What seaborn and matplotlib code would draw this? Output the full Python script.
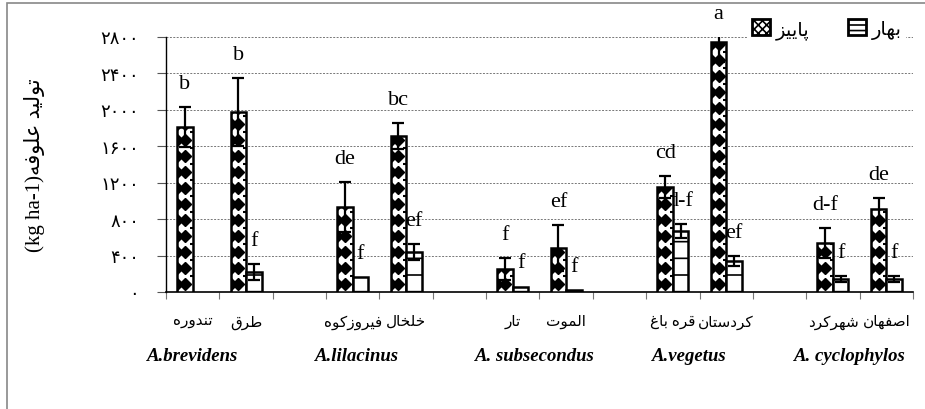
import numpy as np
import pandas as pd
import matplotlib
matplotlib.use("Agg")
import matplotlib.pyplot as plt
import matplotlib.patches as mpatches
import matplotlib.transforms as mtransforms
import seaborn as sns

# --- données ---
species = ["A.brevidens", "A.lilacinus", "A. subsecondus", "A.vegetus", "A. cyclophylos"]
sites = ["تندوره", "طرق", "فیروزکوه", "خلخال", "تار", "الموت",
         "قره باغ", "کردستان", "شهرکرد", "اصفهان"]
autumn_mean = [1810, 1975, 933, 1712, 252, 483, 1153, 2740, 538, 911]
autumn_err = [220, 375, 275, 145, 120, 250, 120, 210, 160, 120]
spring_mean = [np.nan, 220, 165, 439, 60, 20, 670, 340, 143, 143]
spring_err = [0, 88, 0, 88, 0, 0, 76, 55, 33, 33]
autumn_letters = ["b", "b", "de", "bc", "f", "ef", "cd", "a", "d-f", "de"]
spring_letters = ["", "f", "f", "ef", "f", "f", "d-f", "ef", "f", "f"]
season_names = {"autumn": "پاییز", "spring": "بهار"}
y_ticks = [0, 400, 800, 1200, 1600, 2000, 2400, 2800]
y_title_fa = "تولید علوفه"
y_title_unit = "(kg ha-1)"

# décalage horizontal des noms d'espèces (mise en page)
species_shift = [-0.5, -0.42, -0.08, -0.19, -0.19]

# --- mise en forme de l'écriture persane (matplotlib ne fait pas le shaping) ---
FORMS = {
    'ا': (0xFE8D, 0xFE8E), 'آ': (0xFE81, 0xFE82),
    'د': (0xFEA9, 0xFEAA), 'ذ': (0xFEAB, 0xFEAC), 'ر': (0xFEAD, 0xFEAE),
    'ز': (0xFEAF, 0xFEB0), 'ژ': (0xFB8A, 0xFB8B), 'و': (0xFEED, 0xFEEE),
    'ب': (0xFE8F, 0xFE90, 0xFE91, 0xFE92), 'پ': (0xFB56, 0xFB57, 0xFB58, 0xFB59),
    'ت': (0xFE95, 0xFE96, 0xFE97, 0xFE98), 'ث': (0xFE99, 0xFE9A, 0xFE9B, 0xFE9C),
    'ج': (0xFE9D, 0xFE9E, 0xFE9F, 0xFEA0), 'چ': (0xFB7A, 0xFB7B, 0xFB7C, 0xFB7D),
    'ح': (0xFEA1, 0xFEA2, 0xFEA3, 0xFEA4), 'خ': (0xFEA5, 0xFEA6, 0xFEA7, 0xFEA8),
    'س': (0xFEB1, 0xFEB2, 0xFEB3, 0xFEB4), 'ش': (0xFEB5, 0xFEB6, 0xFEB7, 0xFEB8),
    'ص': (0xFEB9, 0xFEBA, 0xFEBB, 0xFEBC), 'ض': (0xFEBD, 0xFEBE, 0xFEBF, 0xFEC0),
    'ط': (0xFEC1, 0xFEC2, 0xFEC3, 0xFEC4), 'ظ': (0xFEC5, 0xFEC6, 0xFEC7, 0xFEC8),
    'ع': (0xFEC9, 0xFECA, 0xFECB, 0xFECC), 'غ': (0xFECD, 0xFECE, 0xFECF, 0xFED0),
    'ف': (0xFED1, 0xFED2, 0xFED3, 0xFED4), 'ق': (0xFED5, 0xFED6, 0xFED7, 0xFED8),
    'ک': (0xFB8E, 0xFB8F, 0xFB90, 0xFB91), 'گ': (0xFB92, 0xFB93, 0xFB94, 0xFB95),
    'ل': (0xFEDD, 0xFEDE, 0xFEDF, 0xFEE0), 'م': (0xFEE1, 0xFEE2, 0xFEE3, 0xFEE4),
    'ن': (0xFEE5, 0xFEE6, 0xFEE7, 0xFEE8), 'ه': (0xFEE9, 0xFEEA, 0xFEEB, 0xFEEC),
    'ی': (0xFBFC, 0xFBFD, 0xFBFE, 0xFBFF),
}


def persan(texte):
    """Renvoie le texte en formes contextuelles, ordre visuel gauche->droite."""
    out = []
    for i, c in enumerate(texte):
        if c not in FORMS:
            out.append(c)
            continue
        prev = texte[i - 1] if i > 0 else None
        nxt = texte[i + 1] if i + 1 < len(texte) else None
        f = FORMS[c]
        lie_avant = prev in FORMS and len(FORMS[prev]) == 4
        lie_apres = nxt in FORMS and len(f) == 4
        if lie_avant and lie_apres:
            code = f[3]
        elif lie_avant:
            code = f[1]
        elif lie_apres:
            code = f[2]
        else:
            code = f[0]
        out.append(chr(code))
    return ''.join(out[::-1])


def chiffres_persans(n):
    return str(n).translate(str.maketrans('0123456789', '۰۱۲۳۴۵۶۷۸۹'))


# --- construction du tableau avec les emplacements vides entre espèces ---
order = []
rows = []
for k in range(len(species)):
    for j in (2 * k, 2 * k + 1):
        order.append(sites[j])
        rows.append({"site": sites[j], "saison": "autumn", "valeur": autumn_mean[j]})
        if not np.isnan(spring_mean[j]):
            rows.append({"site": sites[j], "saison": "spring", "valeur": spring_mean[j]})
    if k < len(species) - 1:
        order.append(" " * (k + 1))
df = pd.DataFrame(rows)

FAMILLE = ['Liberation Serif', 'DejaVu Sans']
plt.rcParams['hatch.linewidth'] = 1.2

fig = plt.figure(figsize=(9.25, 4.1), dpi=100)
ax = fig.add_axes([166 / 925, 1 - 293 / 410, 747 / 925, 255 / 410])

sns.barplot(data=df, x="site", y="valeur", hue="saison", order=order,
            hue_order=["autumn", "spring"], palette={"autumn": "white", "spring": "white"},
            width=0.58, errorbar=None, edgecolor="black", linewidth=1.8,
            saturation=1, legend=False, ax=ax, zorder=3)

ax.set_xlim(-0.5, len(order) - 0.5)
ax.set_ylim(0, 2800)

# correspondance barre -> valeurs
pos_site = {s: order.index(s) for s in sites}
infos = {}
for j, s in enumerate(sites):
    infos[(pos_site[s], "autumn")] = (autumn_mean[j], autumn_err[j], autumn_letters[j])
    infos[(pos_site[s], "spring")] = (spring_mean[j], spring_err[j], spring_letters[j])

pas = 176  # pas vertical du motif en unités de données
for p in ax.patches:
    if not isinstance(p, mpatches.Rectangle) or p.get_width() <= 0 or p.get_width() > 1:
        continue
    cx = p.get_x() + p.get_width() / 2
    idx = int(round(cx))
    saison = "autumn" if cx < idx else "spring"
    if (idx, saison) not in infos:
        continue
    val, err, lettre = infos[(idx, saison)]
    if saison == "spring":
        p.set_hatch('-')
    else:
        ys = np.arange(pas / 2, val + pas, pas)
        l1, = ax.plot(np.full_like(ys, cx), ys, ls='none', marker='D', ms=6.2,
                      color='black', zorder=3.5)
        l2, = ax.plot(np.full_like(ys, p.get_x()), ys, ls='none', marker='D', ms=6.2,
                      color='black', zorder=3.5)
        l3, = ax.plot(np.full_like(ys, p.get_x() + p.get_width()), ys + pas / 2, ls='none',
                      marker='_', ms=5, mew=1.5, color='black', zorder=3.5)
        for l in (l1, l2, l3):
            l.set_clip_path(p)
    if err > 0:
        ax.errorbar(cx, val, yerr=err, fmt='none', ecolor='black', elinewidth=1.6,
                    capsize=4, capthick=1.6, zorder=4)
    if lettre:
        haut = min(val + err, 2800)
        ax.annotate(lettre, (cx, haut), xytext=(0, 17), textcoords='offset points',
                    ha='center', va='center', fontsize=16, family=FAMILLE, zorder=2)

# axes et grille
ax.set_yticks(y_ticks)
ax.set_yticklabels([chiffres_persans(t) for t in y_ticks], family=FAMILLE, fontsize=13)
ax.tick_params(axis='y', length=6.5, width=0.8, color='#555555', pad=13)
for t in y_ticks[1:]:
    ax.axhline(t, color='#777777', lw=0.7, ls=(0, (2, 1.5)), zorder=1)

ax.set_xticks(range(len(order)))
ax.set_xticklabels([persan(s) if s.strip() else "" for s in order], family=FAMILLE, fontsize=11)
ax.set_xticks(np.arange(-0.5, len(order)), minor=True)
ax.tick_params(axis='x', which='major', length=0, pad=16)
ax.tick_params(axis='x', which='minor', length=5, width=0.8, color='#777777')
ax.set_xlabel("")
ax.set_ylabel("")
for cote in ("top", "right"):
    ax.spines[cote].set_visible(False)
ax.spines["left"].set_linewidth(1.0)
ax.spines["bottom"].set_linewidth(1.2)

# noms d'espèces
trans = mtransforms.blended_transform_factory(ax.transData, ax.transAxes)
for k, nom in enumerate(species):
    ax.text(3 * k + 0.5 + species_shift[k], -0.25, nom, transform=trans, ha='center',
            va='center', fontsize=13.5, fontweight='bold', fontstyle='italic',
            family='Liberation Serif')

# titre de l'axe y (persan + unité)
fig.text(35 / 925, 1 - 165 / 410, y_title_unit + persan(y_title_fa), rotation=90,
         ha='center', va='center', fontsize=15, family=FAMILLE)

# légende
poignees = [mpatches.Patch(facecolor='white', edgecolor='black', hatch='xxxx', lw=2),
            mpatches.Patch(facecolor='white', edgecolor='black', hatch='---', lw=2)]
leg = fig.legend(poignees, [persan(season_names["autumn"]), persan(season_names["spring"])],
                 ncol=2, loc='center right', bbox_to_anchor=(915 / 925, 1 - 30 / 410),
                 frameon=True, facecolor='white', edgecolor='white', framealpha=1,
                 handlelength=0.9, handleheight=0.9, handletextpad=0.3, columnspacing=2.0,
                 borderpad=0.2, prop={'family': FAMILLE, 'size': 14})

# cadre extérieur
fig.patches.append(mpatches.Rectangle((7 / 925, -0.1), 1.2, 1.1 - 4 / 410,
                                      transform=fig.transFigure, fill=False,
                                      edgecolor='#888888', lw=1.2))

fig.savefig("out.png", dpi=100)
